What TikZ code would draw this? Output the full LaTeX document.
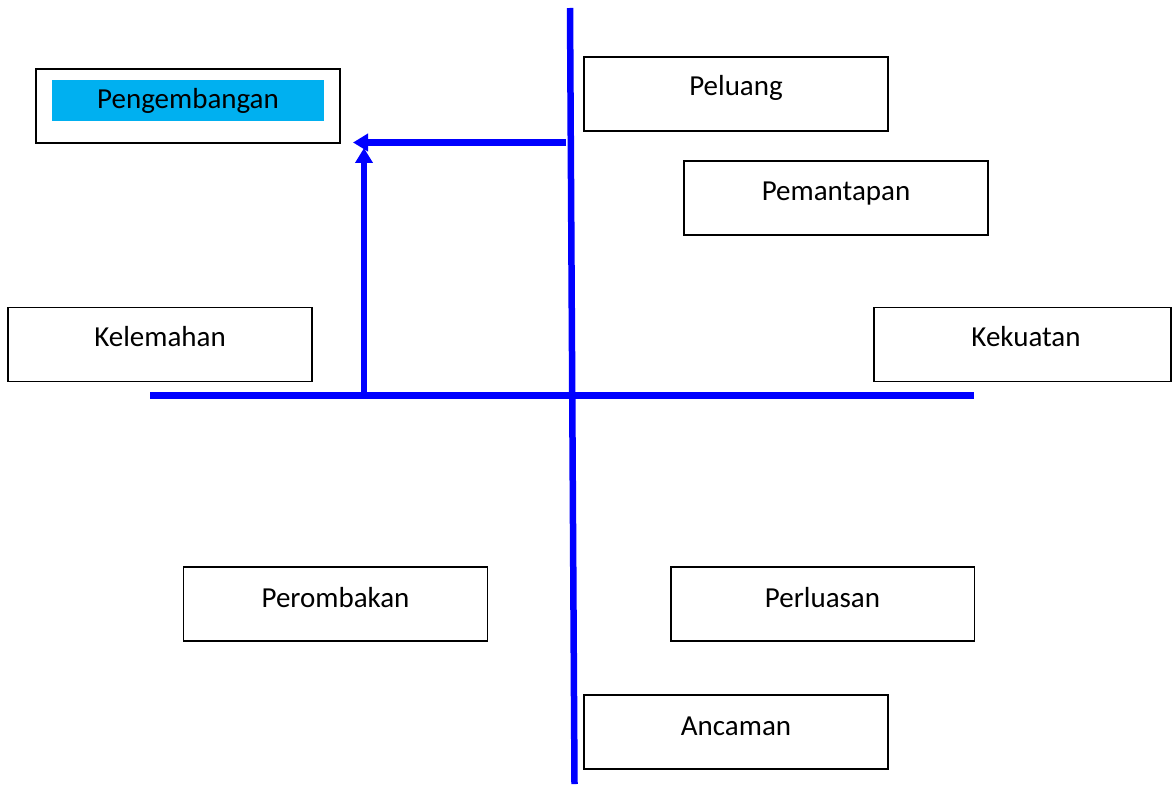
\documentclass[tikz,border=0pt]{standalone}
\usepackage{fontspec}
\setmainfont{Carlito}
\usetikzlibrary{arrows.meta, positioning}

\begin{document}
\begin{tikzpicture}[x=0.02cm,y=-0.02cm]
\tikzset{
  swotbox/.style={draw=black, line width=1.1pt, minimum width=6.08cm, minimum height=1.48cm, inner sep=0pt, outer sep=0pt},
  swottext/.style={anchor=base, inner sep=0pt, font=\fontsize{16.5}{20}\selectfont},
  axis/.style={draw=blue, line width=0.13cm},
  flow/.style={draw=blue, line width=0.13cm, -{Triangle[length=0.3cm,width=0.34cm]}}
}
\definecolor{skyfill}{RGB}{0,176,240}
\useasboundingbox (0,0) rectangle (1172,784);

% boxes
\node[swotbox] (peng) at (188,106) {};
\node[fill=skyfill, minimum width=5.44cm, minimum height=0.82cm, inner sep=0pt] (pengfill) at (188,100.5) {};
\node[swotbox] (peluang) at (736,94) {};
\node[swotbox] (pemantapan) at (836,198) {};
\node[swotbox] (kelemahan) at (160,344.5) {};
\node[swotbox, minimum width=5.94cm] (kekuatan) at (1022.5,344.5) {};
\node[swotbox] (perombakan) at (335.5,604) {};
\node[swotbox] (perluasan) at (822.5,604) {};
\node[swotbox] (ancaman) at (736,732) {};

% texts
\node[swottext] (t-peng) at ([yshift=-0.8cm]peng.north) {Pengembangan};
\node[swottext] (t-peluang) at ([yshift=-0.78cm]peluang.north) {Peluang};
\node[swottext] (t-pemantapan) at ([yshift=-0.78cm]pemantapan.north) {Pemantapan};
\node[swottext] (t-kelemahan) at ([yshift=-0.78cm]kelemahan.north) {Kelemahan};
\node[swottext] (t-kekuatan) at ([xshift=0.07cm,yshift=-0.78cm]kekuatan.north) {Kekuatan};
\node[swottext] (t-perombakan) at ([yshift=-0.8cm]perombakan.north) {Perombakan};
\node[swottext] (t-perluasan) at ([yshift=-0.8cm]perluasan.north) {Perluasan};
\node[swottext] (t-ancaman) at ([yshift=-0.8cm]ancaman.north) {Ancaman};

% axes
\coordinate (top) at (570,8);
\coordinate (bottom) at (574.5,784);
\coordinate (left) at (150,395.5);
\coordinate (right) at (974,395.5);
\draw[axis] (top) -- (bottom);
\draw[axis] (left) -- (right);

% arrows to Pengembangan
\coordinate (foot) at (364,395.5);
\coordinate (up) at (364,148);
\coordinate (from) at (566,142.5);
\coordinate (to) at (353,142.5);
\draw[flow] (foot) -- (up);
\draw[flow] (from) -- (to);
\end{tikzpicture}
\end{document}
